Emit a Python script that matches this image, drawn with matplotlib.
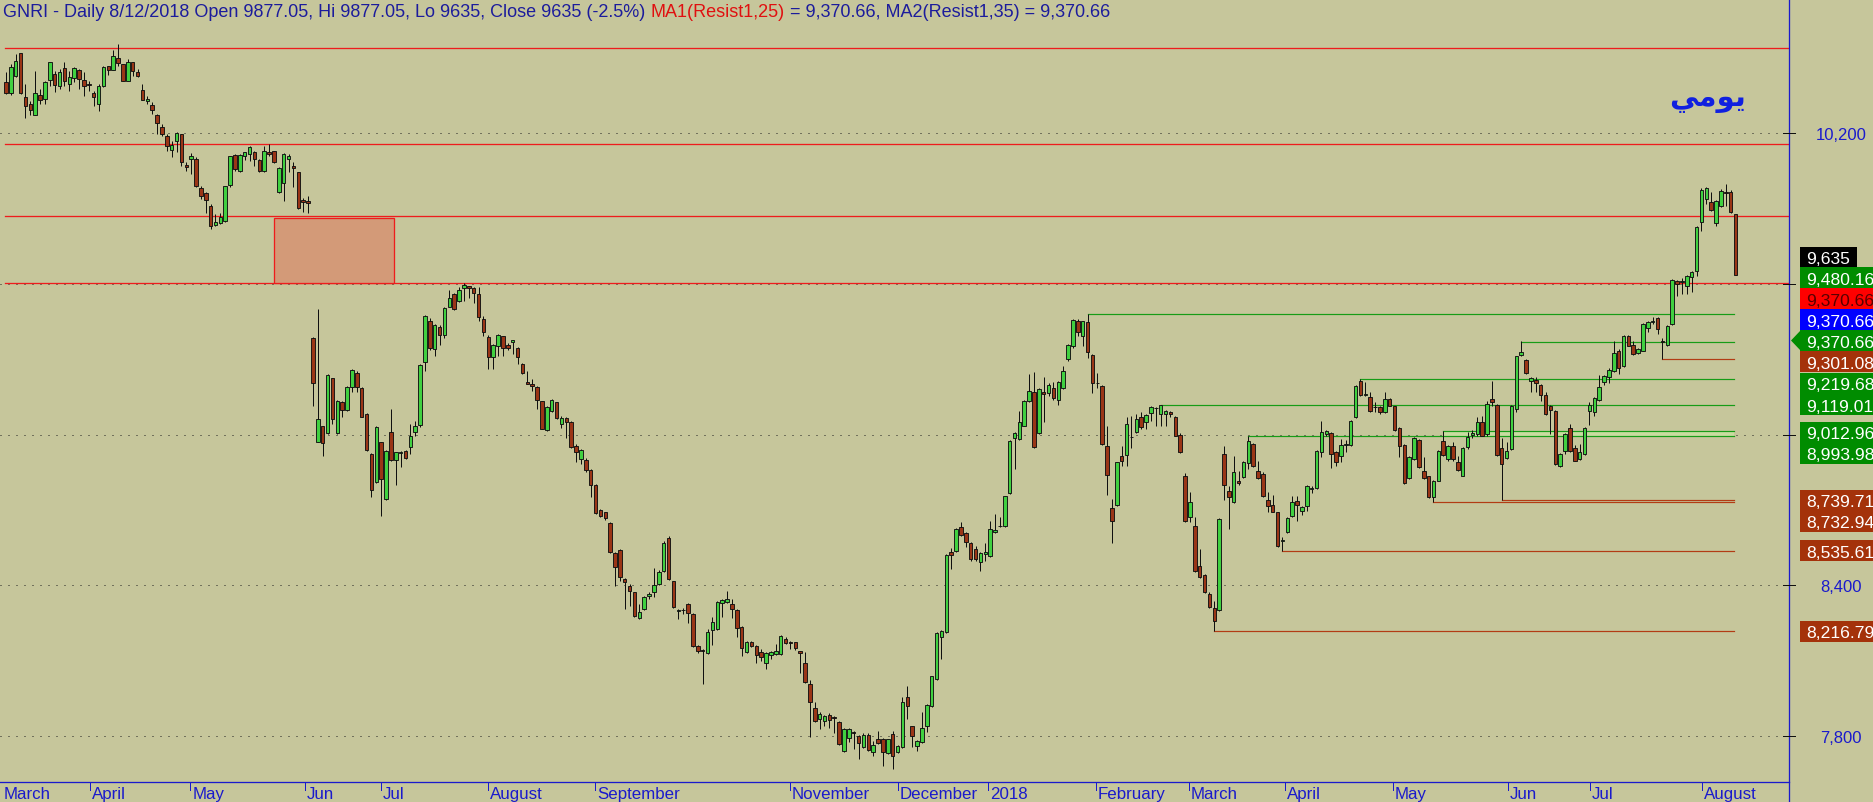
import matplotlib
matplotlib.use("Agg")
import matplotlib.pyplot as plt
from matplotlib.patches import Rectangle, Polygon
from matplotlib.lines import Line2D

W, H = 1874, 803
plt.rcParams['font.family'] = ['Liberation Sans', 'DejaVu Sans']

# ---------------- data (daily OHLC) ----------------
opens = [
10403,10360,10430,10519,10344,10317,10271,10353,10337,10414,
10437,10390,10459,10397,10421,10454,10414,10397,10360,10317,
10390,10467,10454,10499,10475,10407,10486,10446,10374,10328,
10314,10271,10224,10188,10135,10171,10197,10074,10098,10098,
9981,9961,9909,9835,9842,9852,9996,10114,10051,10111,
10118,10125,10095,10049,10127,10128,9965,10002,10098,10069,
10045,9936,9932,
9385,8969,9035,9005,9224,9005,9131,9099,9188,9244,
9184,9082,8923,8810,8969,8743,9009,8899,8926,8936,
8949,9012,9040,9291,9454,9341,9427,9397,9510,9559,
9533,9583,9590,9582,9559,9460,9389,9307,9351,9391,
9356,9367,9343,9283,9211,9201,9190,9132,9019,9095,
9128,9044,9064,9052,8955,8902,8899,8857,8801,8700,
8690,8647,8530,8541,8424,8397,8371,8271,8307,8355,
8374,8404,8457,8586,8415,8298,8301,8327,8284,8156,
8139,8129,8221,8225,8328,8334,8327,8302,8235,8132,
8174,8158,8134,8092,8123,8125,8125,8185,8172,8172,
8136,8089,8006,7909,7866,7860,7883,7875,7856,7740,
7793,7817,7800,7757,7802,7736,7787,7789,7733,7806,
7736,7754,7953,7838,7761,7774,7840,7920,8026,8192,
8212,8531,8535,8630,8607,8567,8544,8494,8524,8518,
8610,8634,8634,8767,8985,8982,9036,9135,9168,9005,
9168,9166,9184,9139,9184,9301,9354,9454,9391,9450,
9318,9204,9195,8956,8706,8719,8916,8919,8989,9009,
9069,9049,9086,9104,9082,9082,9089,9069,9000,8834,
8670,8637,8478,8441,8365,8308,8302,8923,8777,8730,
8814,8830,8887,8962,8856,8843,8741,8721,8690,8577,
8613,8677,8737,8697,8717,8783,8786,8929,9002,9006,
8932,8916,8959,8958,9069,9215,9158,9151,9108,9108,
9089,9142,9112,9025,8958,8826,8903,8980,8856,8834,
8750,8816,8976,8903,8956,8892,8836,8949,9000,9002,
9049,9002,9142,9118,8946,8905,8942,9102,9318,9298,
9215,9218,9197,9159,9112,9095,8876,8936,9025,8945,
8903,8923,9093,9091,9139,9211,9228,9255,9334,9272,
9394,9357,9325,9334,9423,9450,9463,9374,9357,9440,
9613,9609,9593,9626,9653,9846,9938,9928,9843,9909,
9968,9965,9877]
highs = [
10443,10476,10516,10519,10397,10330,10447,10377,10410,10483,
10450,10456,10483,10450,10463,10456,10443,10410,10370,10397,
10467,10470,10530,10556,10475,10496,10486,10456,10397,10350,
10324,10277,10237,10197,10171,10204,10197,10085,10122,10105,
9992,9965,9919,9879,9883,9992,10111,10118,10118,10127,
10148,10131,10098,10151,10158,10131,10065,10122,10118,10087,
10045,9941,9952,
9387,9500,9035,9241,9224,9138,9135,9195,9261,9255,
9188,9086,8927,9035,8972,8940,9102,8932,8936,8939,
9042,9055,9281,9477,9463,9441,9437,9507,9577,9563,
9586,9603,9593,9586,9586,9473,9396,9360,9400,9393,
9364,9377,9347,9287,9254,9221,9194,9134,9112,9141,
9130,9075,9068,9055,8962,8942,8905,8862,8804,8705,
8692,8652,8533,8544,8427,8404,8373,8324,8355,8371,
8470,8461,8577,8597,8417,8304,8311,8331,8291,8161,
8145,8225,8275,8338,8344,8377,8344,8307,8238,8178,
8178,8161,8145,8132,8136,8165,8202,8192,8178,8174,
8138,8134,8023,7935,7893,7882,7890,7879,7860,7833,
7833,7820,7802,7813,7813,7780,7820,7793,7789,7820,
7763,7953,8000,7840,7785,7893,7927,8040,8212,8223,
8524,8547,8626,8650,8613,8571,8557,8531,8568,8657,
8684,8670,8757,8978,9009,9095,9139,9241,9251,9184,
9228,9204,9208,9215,9272,9361,9460,9460,9454,9480,
9321,9245,9198,9033,8743,8892,8953,9069,9073,9082,
9089,9082,9115,9109,9119,9099,9095,9075,9005,8847,
8770,8670,8544,8445,8374,8338,8666,8956,8796,8916,
8856,8893,8994,8966,8896,8850,8770,8759,8693,8591,
8672,8754,8757,8714,8799,8796,8939,9055,9019,9009,
8936,8982,8980,9059,9197,9220,9208,9171,9128,9112,
9168,9144,9115,9029,8962,8916,8989,8982,8909,8836,
8820,8938,9013,8958,8969,8916,8949,9009,9020,9069,
9075,9135,9215,9122,8985,8969,9118,9314,9371,9301,
9228,9228,9201,9168,9118,9099,8927,9006,9042,8958,
8962,9029,9128,9148,9237,9237,9264,9374,9341,9398,
9397,9374,9344,9443,9454,9467,9467,9383,9437,9620,
9617,9622,9636,9653,9830,9981,9985,9965,9934,9978,
9998,9976,9877]
lows = [
10357,10353,10423,10358,10260,10271,10271,10317,10317,10390,
10364,10377,10390,10367,10403,10377,10350,10370,10310,10290,
10383,10433,10454,10467,10407,10407,10430,10423,10334,10317,
10277,10197,10191,10131,10105,10125,10069,10051,10038,9985,
9939,9883,9819,9830,9839,9848,9985,10051,10047,10095,
10091,10071,10047,10047,10111,10082,9962,9932,10045,9985,
9899,9888,9883,
9115,8969,8916,9003,9042,9001,9069,9095,9168,9168,
9069,8935,8750,8807,8674,8741,8896,8800,8870,8903,
8923,8996,9029,9255,9338,9314,9357,9383,9507,9497,
9529,9533,9542,9526,9453,9393,9261,9263,9314,9314,
9338,9320,9280,9241,9201,9174,9101,9022,9015,9088,
9061,9028,8988,8948,8891,8882,8849,8753,8683,8670,
8660,8530,8395,8417,8307,8318,8275,8267,8302,8344,
8351,8400,8453,8421,8311,8267,8285,8251,8152,8129,
8006,8125,8161,8221,8275,8331,8271,8192,8116,8129,
8152,8089,8099,8068,8105,8121,8121,8165,8145,8142,
8049,8010,7797,7856,7829,7840,7833,7810,7763,7736,
7776,7747,7709,7753,7740,7720,7767,7680,7727,7667,
7733,7750,7867,7754,7741,7771,7814,7913,8024,8106,
8209,8465,8531,8597,8551,8498,8498,8458,8498,8511,
8608,8630,8630,8763,8863,8980,9033,9131,8945,9002,
9051,9155,9139,9119,9182,9294,9345,9391,9352,9304,
9164,9184,8960,8761,8567,8717,8876,8876,8945,9006,
9022,9022,9055,9035,9035,9035,9069,8993,8925,8650,
8650,8451,8427,8369,8308,8217,8298,8741,8624,8727,
8800,8827,8863,8870,8823,8750,8690,8690,8551,8536,
8608,8670,8657,8681,8697,8767,8783,8909,8996,8866,
8876,8889,8929,8956,9065,9155,9155,9091,9091,9082,
9086,9112,9016,8909,8803,8823,8900,8867,8823,8747,
8733,8814,8916,8896,8893,8856,8834,8942,8985,8996,
8993,8996,9115,8916,8740,8903,8940,9089,9312,9241,
9171,9168,9135,9078,9002,8879,8869,8923,8932,8893,
8900,8919,9038,9075,9135,9197,9205,9251,9241,9268,
9351,9317,9321,9332,9407,9440,9401,9301,9354,9437,
9553,9560,9560,9569,9630,9812,9919,9892,9830,9905,
9912,9883,9635]
closes = [
10360,10466,10490,10360,10310,10293,10360,10333,10406,10483,
10394,10443,10410,10426,10459,10417,10387,10394,10344,10390,
10463,10454,10507,10480,10407,10486,10450,10430,10334,10337,
10294,10240,10197,10151,10154,10201,10087,10065,10109,9992,
9952,9936,9832,9848,9865,9989,10109,10058,10115,10125,
10144,10098,10049,10131,10118,10085,10061,10118,10111,10061,
9901,9928,9923,
9204,9062,8965,9239,9062,9135,9099,9191,9257,9188,
9071,8939,8779,9032,8823,8936,8899,8929,8926,8905,
8996,9033,9279,9471,9344,9437,9397,9503,9543,9500,
9577,9596,9583,9562,9470,9407,9307,9356,9397,9343,
9343,9375,9307,9245,9203,9192,9137,9024,9108,9137,
9064,9064,9051,8952,8931,8939,8860,8800,8686,8674,
8666,8534,8474,8431,8411,8375,8278,8294,8351,8364,
8401,8453,8570,8424,8315,8298,8300,8288,8156,8136,
8138,8215,8255,8335,8342,8344,8304,8231,8149,8174,
8158,8121,8112,8128,8132,8138,8198,8169,8168,8148,
8129,8015,7933,7860,7886,7877,7863,7870,7767,7829,
7829,7810,7771,7802,7744,7763,7771,7736,7787,7720,
7760,7933,7917,7800,7781,7830,7924,8037,8208,8219,
8522,8522,8624,8601,8571,8504,8504,8527,8531,8624,
8618,8634,8754,8976,9005,9049,9135,9175,8949,9182,
9160,9199,9144,9211,9255,9358,9458,9410,9451,9328,
9204,9204,8962,8839,8654,8889,8893,9042,8989,9062,
9029,9079,9109,9104,9119,9095,9082,8996,8929,8654,
8730,8455,8431,8372,8312,8256,8664,8800,8750,8850,
8806,8889,8976,8873,8826,8754,8714,8693,8555,8577,
8668,8730,8721,8710,8794,8783,8936,9012,9015,8923,
8892,8959,8962,9055,9195,9158,9158,9095,9108,9089,
9142,9115,9020,8953,8807,8909,8985,8869,8826,8750,
8816,8936,8919,8953,8903,8859,8945,8992,9007,9049,
8996,9122,9128,8919,8883,8933,9115,9312,9328,9245,
9224,9205,9159,9082,9099,8883,8923,9002,8936,8896,
8929,9025,9118,9144,9188,9232,9259,9324,9264,9394,
9354,9321,9341,9440,9450,9450,9421,9368,9434,9617,
9600,9609,9630,9649,9826,9976,9981,9896,9932,9972,
9961,9885,9635]

# resistance (red) levels across the chart
resist_levels = [10540, 10156, 9870, 9605]
gap_box = (55, 79.6, 9605, 9862)          # x0, x1 (bar index), low, high
# pivot levels drawn to the right edge
green_levels = [9480.16, 9370.66, 9219.68, 9119.01, 9012.96, 8993.98]
green_start = [222, 311, 278, 237, 295, 255]
brown_levels = [9301.08, 8739.71, 8732.94, 8535.61, 8216.79]
brown_start = [340, 307, 293, 262, 248]

grid_levels = [10200, 9600, 9000, 8400, 7800]
axis_labels = [10200, 8400, 7800]      # 9,600 and 9,000 are hidden behind tags
month_labels = ["March", "April", "May", "Jun", "Jul", "August", "September",
                "November", "December", "2018", "February", "March", "April",
                "May", "Jun", "Jul", "August"]
month_ticks = [-1.0, 17.2, 37.8, 61.4, 77.0, 98.9, 120.9, 160.9, 183.1, 201.6,
               223.7, 242.8, 262.5, 284.7, 308.3, 325.1, 348.1]

tag_text = ["9,635", "9,480.16", "9,370.66", "9,370.66", "9,370.66", "9,301.08",
            "9,219.68", "9,119.01", "9,012.96", "8,993.98", "8,739.71",
            "8,732.94", "8,535.61", "8,216.79"]
BLK, GRN, RED, BLU, BRN = "#000000", "#008c00", "#ff0000", "#0000ff", "#a4320a"
tag_face = [BLK, GRN, RED, BLU, GRN, BRN, GRN, GRN, GRN, GRN, BRN, BRN, BRN, BRN]
tag_fg = ["white", "white", "#5a0000", "white", "white", "white", "white",
          "white", "white", "white", "white", "white", "white", "white"]

# ---------------- figure ----------------
BG = "#c6c69b"
fig = plt.figure(figsize=(W / 100, H / 100), dpi=100, facecolor=BG)
AX_R = 1789
AX_B = 783
ax = fig.add_axes([0, (H - AX_B) / H, AX_R / W, AX_B / H])
ax.set_facecolor(BG)
for s in ax.spines.values():
    s.set_visible(False)
ax.set_xticks([])
ax.set_yticks([])
n = len(closes)
x0p, dx = 6.0, 4.872
YLO, YHI = 7616, 10735
ax.set_xlim(-x0p / dx, (AX_R - x0p) / dx)
ax.set_ylim(YLO, YHI)

PX = 0.72  # one pixel in points

# grid
for g in grid_levels:
    ax.axhline(g, color="#202020", lw=PX, ls=(0, (1, 7)), zorder=1)

# red resistance lines
for lv in resist_levels:
    ax.plot([-0.2, (AX_R - x0p) / dx], [lv, lv], color="#ee1c1c", lw=1.3 * PX, zorder=2)

# gap rectangle
ax.add_patch(Rectangle((gap_box[0], gap_box[2]), gap_box[1] - gap_box[0],
                       gap_box[3] - gap_box[2], facecolor="#d39a78",
                       edgecolor="#ee1c1c", lw=1.3 * PX, zorder=2))

end_x = n - 1.3
# band between 9012.96 and 8993.98
ax.fill_between([green_start[4], end_x], green_levels[5], green_levels[4],
                color="#c9dca0", zorder=2, lw=0)
for lv, st in zip(green_levels, green_start):
    ax.plot([st, end_x], [lv, lv], color="#179c17", lw=1.2 * PX, zorder=2)
for lv, st in zip(brown_levels, brown_start):
    ax.plot([st, end_x], [lv, lv], color="#b23c14", lw=1.2 * PX, zorder=2)

# candles
xs = list(range(n))
ax.vlines(xs, lows, highs, color="#101010", lw=PX, zorder=3)
bull = "#40d040"
bear = "#9a3516"
bottoms = [min(o, c) for o, c in zip(opens, closes)]
heights = [max(abs(c - o), 3) for o, c in zip(opens, closes)]
cols = [bull if c >= o else bear for o, c in zip(opens, closes)]
ax.bar(xs, heights, bottom=bottoms, width=0.72, color=cols,
       edgecolor="#101010", linewidth=0.9 * PX, zorder=4)

# ---------------- frame lines (pixel coords) ----------------
def fx(x):
    return x / W

def fy(y):
    return 1 - y / H

AXC = "#1a1acc"
fig.add_artist(Line2D([fx(0), fx(AX_R)], [fy(AX_B), fy(AX_B)], color=AXC, lw=1.3 * PX))
fig.add_artist(Line2D([fx(AX_R), fx(AX_R)], [fy(0), fy(H)], color=AXC, lw=1.3 * PX))

# month labels and ticks
for lab, t in zip(month_labels, month_ticks):
    xp = x0p + dx * t
    if t > 0:
        fig.add_artist(Line2D([fx(xp), fx(xp)], [fy(AX_B), fy(AX_B + 8)], color=AXC, lw=PX))
    fig.text(fx(max(xp, 2) + 2), fy(799), lab, color="#1a1acc", fontsize=12.2,
             ha="left", va="baseline")

# right axis tick marks and price labels
def ypix(v):
    return AX_B - (v - YLO) / (YHI - YLO) * AX_B

for g in grid_levels:
    yp = ypix(g)
    fig.add_artist(Line2D([fx(AX_R - 6), fx(AX_R + 6)], [fy(yp), fy(yp)], color="#101010", lw=PX))
for g in axis_labels:
    yp = ypix(g)
    fig.text(fx(1841), fy(yp + 6), f"{g:,}", color="#1a1acc", fontsize=12,
             ha="center", va="baseline")

# value tags
tag_y = [258, 278.5, 299.5, 320.5, 341.5, 362.5, 384, 405, 433, 454, 501, 522, 551.5, 632]
for i, (txt, fc, tc, yc) in enumerate(zip(tag_text, tag_face, tag_fg, tag_y)):
    x_left = 1800
    x_right = 1857 if i == 0 else 1880
    fig.add_artist(Rectangle((fx(x_left), fy(yc + 10.5)), (x_right - x_left) / W, 21 / H,
                             facecolor=fc, edgecolor="none", zorder=5))
    if i == 4:
        fig.add_artist(Polygon([(fx(1791), fy(yc)), (fx(1801), fy(yc - 10.5)),
                                (fx(1801), fy(yc + 10.5))], closed=True,
                               facecolor=fc, edgecolor="none", zorder=5))
    fig.text(fx(1806), fy(yc + 6.5), txt, color=tc, fontsize=12.6, ha="left",
             va="baseline", zorder=6)

# Arabic caption (presentation forms, visual order)
fig.text(fx(1708), fy(99), "\uFEF2\uFEE3\uFEEE\uFEF3", color="#1020e0", fontsize=21,
         fontweight="bold", family=["DejaVu Sans"], ha="center", va="center")

# ---------------- header ----------------
fig.canvas.draw()
r = fig.canvas.get_renderer()
parts = [("GNRI - Daily 8/12/2018 Open 9877.05, Hi 9877.05, Lo 9635, Close 9635 (-2.5%)", "#1c1c9c"),
         ("MA1(Resist1,25)", "#e01010"),
         ("= 9,370.66, MA2(Resist1,35) = 9,370.66", "#1c1c9c")]

def width_of(s, size):
    t = fig.text(0, 0, s, fontsize=size)
    w = t.get_window_extent(r).width
    t.remove()
    return w

base = 12.0
total = sum(width_of(p, base) for p, _ in parts) + 2 * (width_of("a a", base) - width_of("aa", base))
size = base * 1107 / total
sp = width_of("a a", size) - width_of("aa", size)
xh = 3.5
for p, c in parts:
    t = fig.text(fx(xh), fy(17), p, color=c, fontsize=size, ha="left", va="baseline")
    xh += t.get_window_extent(r).width + sp

fig.savefig("out.png", dpi=100, facecolor=BG)
